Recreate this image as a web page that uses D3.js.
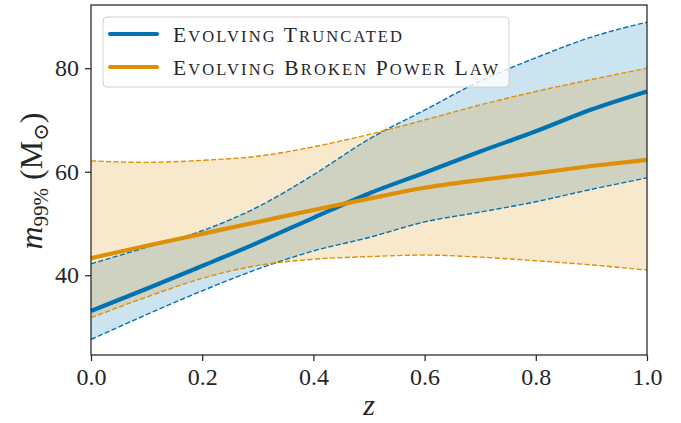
<!DOCTYPE html>
<html>
<head>
<meta charset="utf-8">
<script src="https://cdn.jsdelivr.net/npm/d3@7"></script>
<style>
  html, body { margin: 0; padding: 0; background: #fff; overflow: hidden; }
  svg { display: block; }
  text { font-family: "Liberation Serif", "DejaVu Serif", serif; fill: #262626; }
</style>
</head>
<body>
<div id="chart"></div>
<script>
// redshift grid
const zValues = [0.0, 0.1, 0.2, 0.3, 0.4, 0.5, 0.6, 0.7, 0.8, 0.9, 1.0];

// Evolving Truncated (median + 90% band)
const truncMedian = [33.1, 37.4, 41.8, 46.3, 51.1, 55.8, 59.8, 63.9, 67.8, 72.0, 75.5];
const truncLow = [27.6, 32.4, 37.0, 41.2, 44.7, 47.3, 50.3, 52.2, 54.2, 56.6, 58.8];
const truncHigh = [42.2, 45.4, 48.6, 53.2, 59.4, 66.3, 71.9, 77.5, 82.0, 86.0, 88.9];

// Evolving Broken Power Law
const bplMedian = [43.3, 45.7, 48.0, 50.3, 52.6, 54.8, 56.9, 58.4, 59.7, 61.1, 62.3];
const bplLow = [31.8, 35.8, 39.4, 41.9, 43.1, 43.6, 43.9, 43.5, 42.8, 42.0, 41.0];
const bplHigh = [62.1, 61.8, 62.2, 63.0, 64.8, 67.2, 70.0, 72.9, 75.5, 77.8, 80.0];

const xTicks = [0.0, 0.2, 0.4, 0.6, 0.8, 1.0];
const yTicks = [40, 60, 80];
const seriesNames = ["Evolving Truncated", "Evolving Broken Power Law"];
const seriesColors = ["#0173b2", "#de8f05"];

const width = 681, height = 423;
const margin = { top: 5, right: 34, bottom: 68, left: 91 };
const innerWidth = width - margin.left - margin.right;
const innerHeight = height - margin.top - margin.bottom;

const svg = d3.select("#chart").append("svg")
    .attr("width", width).attr("height", height);
const chart = svg.append("g").attr("transform", `translate(${margin.left},${margin.top})`);

const xScale = d3.scaleLinear().domain([0, 1]).range([0, innerWidth]);
const yScale = d3.scaleLinear().domain([24.6, 92.2]).range([innerHeight, 0]);

const series = [
    { median: truncMedian, low: truncLow, high: truncHigh, color: seriesColors[0] },
    { median: bplMedian, low: bplLow, high: bplHigh, color: seriesColors[1] }
];

const curve = d3.curveMonotoneX;
const area = d3.area()
    .x((d, i) => xScale(zValues[i]))
    .y0(d => yScale(d[0]))
    .y1(d => yScale(d[1]))
    .curve(curve);
const line = d3.line()
    .x((d, i) => xScale(zValues[i]))
    .y(d => yScale(d))
    .curve(curve);

// bands
series.forEach(s => {
    chart.append("path")
        .datum(s.low.map((v, i) => [v, s.high[i]]))
        .attr("d", area)
        .attr("fill", s.color)
        .attr("fill-opacity", 0.2);
});

// lines
series.forEach(s => {
    [s.low, s.high].forEach(arr => {
        chart.append("path")
            .datum(arr)
            .attr("d", line)
            .attr("fill", "none")
            .attr("stroke", s.color)
            .attr("stroke-width", 1.4)
            .attr("stroke-dasharray", "5.2,2.3");
    });
    chart.append("path")
        .datum(s.median)
        .attr("d", line)
        .attr("fill", "none")
        .attr("stroke", s.color)
        .attr("stroke-width", 4.2);
});

// axes
const xAxis = d3.axisBottom(xScale).tickValues(xTicks).tickFormat(d3.format(".1f")).tickSizeOuter(0).tickSize(6).tickPadding(7);
const yAxis = d3.axisLeft(yScale).tickValues(yTicks).tickSizeOuter(0).tickSize(6).tickPadding(6);

const gx = chart.append("g").attr("transform", `translate(0,${innerHeight})`).call(xAxis);
const gy = chart.append("g").call(yAxis);
[gx, gy].forEach(g => {
    g.attr("font-size", 24).attr("font-family", "Liberation Serif");
    g.select(".domain").remove();
    g.selectAll(".tick line").attr("stroke", "#262626").attr("stroke-width", 1.25);
    g.selectAll(".tick text").attr("fill", "#262626");
});

// frame
chart.append("rect")
    .attr("width", innerWidth).attr("height", innerHeight)
    .attr("fill", "none").attr("stroke", "#262626").attr("stroke-width", 1.25);

// axis labels
svg.append("text")
    .attr("x", margin.left + innerWidth / 2)
    .attr("y", 415)
    .attr("text-anchor", "middle")
    .attr("font-size", 30)
    .attr("font-style", "italic")
    .text("z");

const ylab = svg.append("text")
    .attr("transform", `translate(42,${margin.top + innerHeight / 2 + 1}) rotate(-90)`)
    .attr("text-anchor", "middle")
    .attr("font-size", 32);
ylab.append("tspan").attr("font-style", "italic").text("m");
ylab.append("tspan").attr("font-size", 21).attr("dy", 6).text("99%");
ylab.append("tspan").attr("dy", -6).text(" (M");
ylab.append("tspan").attr("font-size", 21).attr("dy", 6).text("⊙");
ylab.append("tspan").attr("dy", -6).text(")");

// legend
const legendWidths = [229, 325];
const legend = svg.append("g").attr("transform", "translate(103,17)");
legend.append("rect")
    .attr("width", 406).attr("height", 70)
    .attr("rx", 4)
    .attr("fill", "#fff").attr("fill-opacity", 0.8)
    .attr("stroke", "#d0d0d0").attr("stroke-width", 1);
seriesNames.forEach((name, i) => {
    const y = 17 + i * 33;
    legend.append("line")
        .attr("x1", 7).attr("x2", 54).attr("y1", y).attr("y2", y)
        .attr("stroke", seriesColors[i]).attr("stroke-width", 4.2)
        .attr("stroke-linecap", "round");
    const t = legend.append("text")
        .attr("x", 70).attr("y", y + 7.5)
        .attr("font-size", 21.5)
        .attr("textLength", legendWidths[i])
        .attr("lengthAdjust", "spacing");
    // hand-made small caps: capitals full size, the rest reduced
    name.split(" ").forEach((word, w) => {
        t.append("tspan").text((w ? " " : "") + word[0]);
        t.append("tspan").attr("font-size", 16.5).text(word.slice(1).toUpperCase());
    });
});
</script>
</body>
</html>
